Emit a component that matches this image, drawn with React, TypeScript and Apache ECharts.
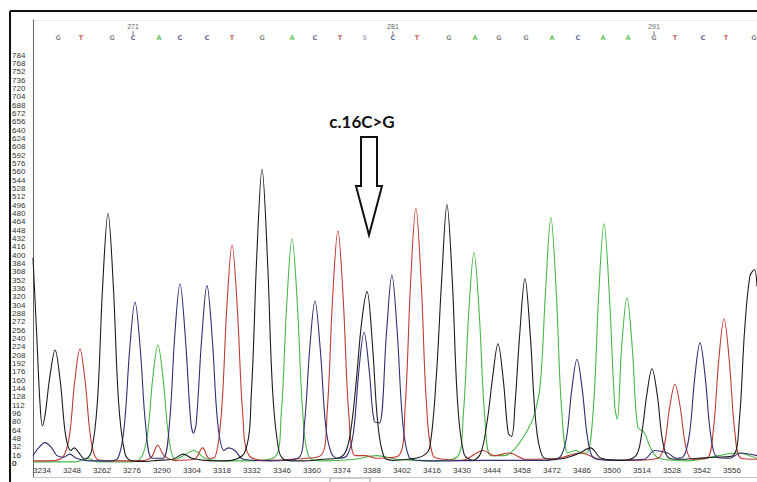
import React, { useEffect, useRef } from "react";
import * as echarts from "echarts";

// ---- axis tick labels ----
const xTicks = [3234, 3248, 3262, 3276, 3290, 3304, 3318, 3332, 3346, 3360, 3374, 3388, 3402, 3416, 3430, 3444, 3458, 3472, 3486, 3500, 3514, 3528, 3542, 3556];
const yTicks = [0, 16, 32, 48, 64, 80, 96, 112, 128, 144, 160, 176, 192, 208, 224, 240, 256, 272, 288, 304, 320, 336, 352, 368, 384, 400, 416, 432, 448, 464, 480, 496, 512, 528, 544, 560, 576, 592, 608, 624, 640, 656, 672, 688, 704, 720, 736, 752, 768, 784];

// ---- base calls ----
const baseLetters = ["G", "T", "G", "C", "A", "C", "C", "T", "G", "A", "C", "T", "S", "C", "T", "G", "A", "G", "G", "A", "C", "A", "A", "G", "T", "C", "T", "G"];
const basePos = [3241.5, 3252.2, 3266.7, 3276.5, 3288.6, 3298.4, 3311.0, 3322.7, 3336.7, 3350.7, 3361.4, 3373.1, 3384.7, 3397.8, 3409.0, 3423.9, 3436.1, 3447.3, 3459.9, 3472.0, 3484.1, 3495.8, 3507.5, 3519.6, 3529.4, 3542.5, 3553.2, 3566.3];
const posLabels = ["271", "281", "291"];
const posValues = [3276.5, 3397.8, 3519.6];

// ---- traces: [scan, intensity] ----
const traceG = [
  [3229.8, 395], [3231.5, 250], [3233, 120], [3234.2, 72], [3235.5, 95], [3237.6, 165], [3240.1, 218], [3242.6, 155], [3245, 55], [3247.5, 25], [3249, 30], [3251, 22], [3254, 8], [3257, 22],
  [3259.8, 115], [3262.3, 340], [3264.8, 480], [3267.3, 340], [3269.8, 115], [3272.8, 18], [3276, 5], [3282, 4], [3288, 6], [3295, 8], [3300, 18], [3304, 10], [3310, 6], [3320, 5],
  [3328.7, 22], [3331.7, 135], [3334.2, 395], [3336.7, 565], [3339.2, 395], [3341.7, 135], [3344.7, 22], [3348, 6], [3356, 5], [3365, 8], [3372, 10], [3376, 25],
  [3378.5, 75], [3380.7, 160], [3383.2, 272], [3385.7, 330], [3388.2, 230], [3390.7, 78], [3393.7, 12], [3398, 6], [3405, 8], [3412, 15], [3415, 32],
  [3418, 165], [3420.5, 350], [3423.0, 497], [3425.5, 350], [3428, 115], [3431, 18], [3435, 6], [3438.8, 20], [3441.8, 82], [3444.3, 165], [3446.8, 230],
  [3449.3, 160], [3451.6, 58], [3453.2, 52], [3454.8, 115], [3456.9, 245], [3459.4, 355], [3461.9, 245], [3464.4, 82], [3467.4, 15], [3472, 8], [3478, 10],
  [3485, 20], [3490, 30], [3495, 10], [3505, 6], [3511.2, 15], [3513.7, 52], [3516.2, 130], [3518.7, 182], [3521.2, 130], [3523.7, 42], [3526.7, 10], [3532, 8],
  [3540, 10], [3548, 12], [3556.4, 15], [3559.4, 80], [3561.9, 255], [3564.4, 360], [3566.5, 372], [3567.7, 340]
];
const traceC = [
  [3229.8, 15], [3232, 28], [3235.4, 40], [3238.5, 30], [3241, 15], [3244, 12], [3247, 18], [3250, 10], [3256, 5], [3265, 5], [3269.4, 10],
  [3272.4, 72], [3274.9, 218], [3277.4, 310], [3279.9, 218], [3282.4, 72], [3285.4, 10], [3290.4, 10], [3293.4, 72], [3295.9, 242], [3298.4, 345],
  [3300.9, 242], [3303.4, 82], [3304.7, 58], [3306, 78], [3308.5, 238], [3311.0, 342], [3313.5, 238], [3316, 78], [3319, 25], [3321, 30], [3324, 25], [3328, 8],
  [3340, 5], [3353.4, 10], [3356.4, 72], [3358.9, 218], [3361.4, 312], [3363.9, 218], [3366.4, 72], [3369, 20], [3372, 10], [3376.3, 15], [3379.3, 58],
  [3381.8, 175], [3384.3, 252], [3386.8, 175], [3389, 82], [3391.5, 78], [3394.8, 252], [3397.3, 362], [3399.8, 252], [3402.3, 82], [3405.3, 12], [3410, 6],
  [3420, 5], [3440, 6], [3455, 6], [3470, 6], [3475.7, 12], [3478.7, 47], [3481.2, 140], [3483.7, 200], [3486.2, 140], [3488.7, 47], [3491.7, 10], [3500, 6],
  [3515, 8], [3520, 25], [3526, 20], [3530, 10], [3533.1, 12], [3536.1, 54], [3538.6, 163], [3541.1, 232], [3543.6, 163], [3546.1, 54], [3549.1, 12],
  [3555, 10], [3560, 20], [3567.7, 15]
];
const traceT = [
  [3229.8, 5], [3238, 5], [3243.7, 12], [3246.7, 50], [3249.2, 155], [3251.7, 220], [3254.2, 155], [3256.7, 50], [3259.7, 8], [3265, 5], [3280, 5],
  [3285, 12], [3288, 35], [3291, 15], [3296, 6], [3305, 8], [3309, 30], [3312, 10], [3314.7, 12], [3317.7, 95], [3320.2, 295], [3322.7, 420],
  [3325.2, 295], [3327.7, 95], [3330.7, 15], [3340, 6], [3350, 8], [3364.1, 15], [3367.1, 100], [3369.6, 315], [3372.1, 447], [3374.6, 315], [3377.1, 100],
  [3380.1, 15], [3385, 15], [3390, 10], [3400.5, 15], [3403.5, 110], [3406, 345], [3408.5, 490], [3411, 345], [3413.5, 110], [3416.5, 15], [3422, 8],
  [3430, 6], [3440, 25], [3445, 15], [3452, 20], [3460, 8], [3475, 10], [3485, 20], [3495, 8], [3510, 6], [3521.4, 10], [3524.4, 34], [3526.9, 107],
  [3529.4, 152], [3531.9, 107], [3534.4, 34], [3537.4, 8], [3544.3, 10], [3547.3, 63], [3549.8, 196], [3552.3, 278], [3554.8, 196], [3557.3, 63],
  [3560.3, 10], [3567.7, 8]
];
const traceA = [
  [3229.8, 3], [3250, 3], [3255, 10], [3260, 3], [3275, 3], [3280.1, 10], [3283.1, 52], [3285.6, 160], [3288.1, 228], [3290.6, 160], [3293.1, 52],
  [3296.1, 8], [3300, 15], [3305, 25], [3310, 10], [3320, 5], [3330, 5], [3342.7, 12], [3345.7, 98], [3348.2, 304], [3350.7, 432], [3353.2, 304],
  [3355.7, 98], [3358.7, 12], [3365, 5], [3380, 8], [3390, 15], [3400, 8], [3415, 5], [3427.6, 12], [3430.6, 92], [3433.1, 285], [3435.6, 405],
  [3438.1, 285], [3440.6, 92], [3443.6, 15], [3450, 15], [3455, 30], [3460, 60], [3463.5, 90], [3466.5, 150], [3469, 330], [3471.5, 472], [3474, 330],
  [3476.5, 104], [3479.5, 20], [3483, 25], [3486, 20], [3488.3, 20], [3491.3, 104], [3493.8, 323], [3496.3, 460], [3498.8, 323], [3501.3, 110],
  [3502.5, 85], [3504.5, 222], [3507.0, 318], [3509.5, 222], [3512, 70], [3515, 60], [3518, 30], [3522, 10], [3535, 5], [3550, 15], [3558, 20], [3567.7, 10]
];

const COLORS: Record<string, string> = { G: "#1c1c1c", C: "#2e2e72", T: "#bf3a32", A: "#47b847" };
const LETTER_COLORS: Record<string, string> = { G: "#6a6a6a", C: "#3b3b7e", T: "#b03a34", A: "#3fb43f", S: "#9a9ab8" };
const LABEL_FONT = "Liberation Sans";

export default function App() {
  const ref = useRef<HTMLDivElement>(null);
  useEffect(() => {
    if (!ref.current) return;
    const chart = echarts.init(ref.current, undefined, { renderer: "svg" });
    const traceSeries = (name: string, data: number[][]) => ({
      name,
      type: "line",
      data,
      showSymbol: false,
      symbol: "none",
      smooth: 0.35,
      lineStyle: { color: COLORS[name], width: 1.1 },
      itemStyle: { color: COLORS[name] },
      z: 2,
      silent: true,
    });
    const staticGraphics: any[] = [
      { id: "frameTop", type: "line", shape: { x1: 10, y1: 11, x2: 757, y2: 11 }, style: { stroke: "#111", lineWidth: 2 } },
      { id: "frameLeft", type: "line", shape: { x1: 10, y1: 11, x2: 10, y2: 482 }, style: { stroke: "#111", lineWidth: 2 } },
      { id: "plotTop", type: "line", shape: { x1: 33, y1: 20.5, x2: 757, y2: 20.5 }, style: { stroke: "#eeeeee", lineWidth: 1 } },
      { id: "scrollThumb", type: "rect", shape: { x: 330, y: 478, width: 40, height: 6 }, style: { fill: "none", stroke: "#999", lineWidth: 1 } },
      {
        id: "mutText",
        type: "text",
        x: 362,
        y: 121,
        z: 10,
        style: { text: "c.16C>G", font: "bold 17px Lato", fill: "#111", align: "center", verticalAlign: "middle" },
      },
      {
        id: "mutArrow",
        type: "polygon",
        z: 10,
        shape: { points: [[361, 137], [377, 137], [377, 186], [382, 186], [369, 235], [356, 186], [361, 186]] },
        style: { fill: "#ffffff", stroke: "#111", lineWidth: 2 },
      },
    ];
    chart.setOption({
      animation: false,
      backgroundColor: "#ffffff",
      grid: { left: 33, right: 0, top: 20, bottom: 5 },
      xAxis: {
        type: "value",
        min: 3229.8,
        max: 3567.7,
        axisLine: { show: true, onZero: false, lineStyle: { color: "#c8c8c8", width: 1 } },
        axisTick: { show: false },
        splitLine: { show: false },
        axisLabel: {
          customValues: xTicks,
          formatter: (v: number) => String(v),
          inside: true,
          margin: 3,
          fontSize: 8,
          lineHeight: 8,
          color: "#333",
          fontFamily: LABEL_FONT,
        },
      },
      yAxis: {
        type: "value",
        min: -26,
        max: 851.6,
        axisLine: { show: true, onZero: false, lineStyle: { color: "#666", width: 1 } },
        axisTick: { show: false },
        splitLine: { show: false },
        axisLabel: {
          customValues: yTicks,
          formatter: (v: number) => String(v),
          showMinLabel: true,
          showMaxLabel: true,
          align: "left",
          margin: 21,
          fontSize: 8,
          lineHeight: 7,
          color: "#333",
          fontFamily: LABEL_FONT,
        },
      },
      series: [
        traceSeries("A", traceA),
        traceSeries("T", traceT),
        traceSeries("C", traceC),
        traceSeries("G", traceG),
        {
          type: "scatter",
          silent: true,
          symbolSize: 1,
          itemStyle: { color: "rgba(0,0,0,0)" },
          data: baseLetters.map((b, i) => ({
            name: b,
            value: [basePos[i], 817],
            label: { color: LETTER_COLORS[b] },
          })),
          label: {
            show: true,
            position: "inside",
            formatter: "{b}",
            fontSize: 6.5,
            fontWeight: "bold",
            fontFamily: "DejaVu Sans",
          },
        },
        {
          type: "scatter",
          silent: true,
          symbol: "rect",
          symbolSize: [1, 4],
          itemStyle: { color: "#555" },
          data: posLabels.map((p, i) => ({ name: p, value: [posValues[i], 826] })),
          label: {
            show: true,
            position: "top",
            distance: 1,
            formatter: "{b}",
            fontSize: 7,
            color: "#333",
            fontFamily: LABEL_FONT,
          },
        },
      ],
      graphic: staticGraphics,
    });
    // The axis drops its lowest tick label; draw that one at the position the y scale gives for it.
    const zeroY = chart.convertToPixel({ yAxisIndex: 0 }, yTicks[0]) as number;
    chart.setOption({
      graphic: [
        ...staticGraphics,
        {
          id: "yZeroLabel",
          type: "text",
          x: 12,
          y: zeroY,
          style: { text: String(yTicks[0]), font: `8px '${LABEL_FONT}'`, fill: "#333", align: "left", verticalAlign: "middle" },
        },
      ],
    });
    return () => chart.dispose();
  }, []);
  return <div ref={ref} style={{ position: "fixed", left: 0, top: 0, width: 757, height: 482 }} />;
}
